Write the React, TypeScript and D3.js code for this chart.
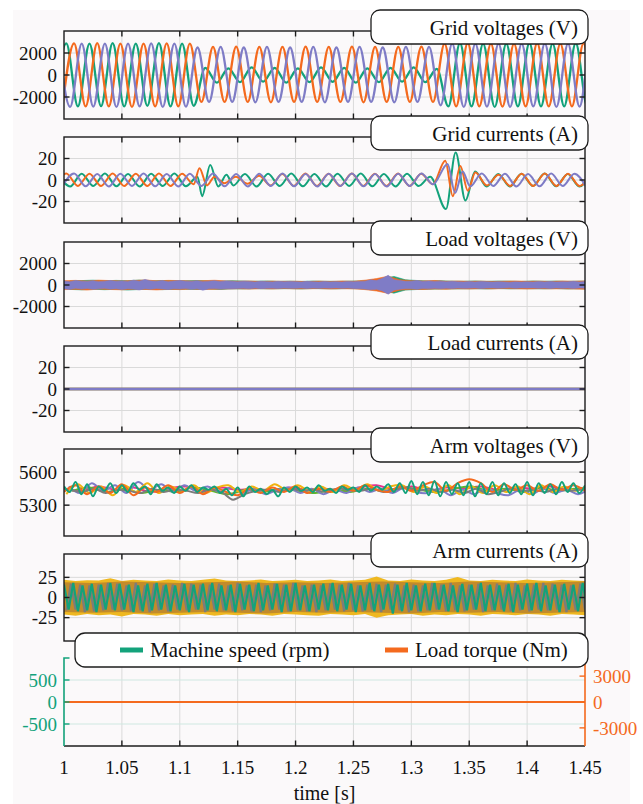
import React from "react";
import * as d3 from "d3";

type Seg = { t0: number; dt: number; v: number[] };
type Band = { t0: number; dt: number; hi: number[]; lo: number[] };

// time axis
const timeTicks = [1, 1.05, 1.1, 1.15, 1.2, 1.25, 1.3, 1.35, 1.4, 1.45];
const timeDomain = [1, 1.45];

// grid voltages (V) - peak values, one every half cycle
const gridVoltTicks = [-2000, 0, 2000];
const gridVoltGreen: Seg = { t0: 0.992, dt: 0.01, v: [
  -2800, 2880, -2850, 2850, -2820, 2900, -2850, 2860, -2800, 2900, -2850, 2850, -2800,
  650, -700, 600, -650, 700, -600, 650, -700, 600, -650, 700, -620, 650, -700, 600, -650, 650, -600, 700, -650, 550,
  -2850, 2900, -2850, 2850, -2900, 2850, -2850, 2900, -2850, 2850, -2850, 2900, -2850, 2850] };
const gridVoltOrange: Seg = { t0: 0.9987, dt: 0.01, v: [
  -2850, 2880, -2850, 2900, -2850, 2850, -2900, 2850, -2850, 2880, -2850, 2850,
  -2450, 2550, -2450, 2580, -2450, 2550, -2480, 2550, -2450, 2580, -2450, 2550, -2450, 2580, -2480, 2550, -2450, 2550, -2450, 2580, -2450,
  2850, -2850, 2900, -2850, 2850, -2880, 2850, -2850, 2900, -2850, 2850, -2850, 2880, -2850, 2850] };
const gridVoltPurple: Seg = { t0: 0.9953, dt: 0.01, v: [
  2850, -2900, 2850, -2880, 2850, -2900, 2850, -2850, 2880, -2900, 2850, -2880,
  2500, -2450, 2550, -2450, 2500, -2480, 2550, -2450, 2500, -2450, 2550, -2480, 2500, -2450, 2550, -2450, 2500, -2480, 2550, -2450, 2550,
  -2750, 2850, -2900, 2850, -2880, 2850, -2900, 2850, -2850, 2880, -2900, 2850, -2880, 2850, -2900] };

// grid currents (A)
const gridCurTicks = [-20, 0, 20];
const gridCurOrange: Seg[] = [
  { t0: 0.992, dt: 0.01, v: [-5.5, 6, -5.5, 5.8, -5.5, 6, -5.6, 5.8, -5.5, 6, -5.5, 5.8, -4] },
  { t0: 1.117, dt: 0.0065, v: [11, -5, 3] },
  { t0: 1.1385, dt: 0.01, v: [-3, 3, -3.5, 4, -5, 5.5, -5.5, 6, -5.5, 5.8, -5.5, 6, -5.6, 5.8, -5.5, 6, -5.5, 5.8, -4] },
  { t0: 1.3293, dt: 0.0065, v: [18, -15, 13, -10, 7] },
  { t0: 1.3653, dt: 0.01, v: [-5, 5, -5.5, 5.8, -5.5, 6, -5.5, 5.8, -5.5, 6] },
];
const gridCurGreen: Seg[] = [
  { t0: 0.9953, dt: 0.01, v: [5.5, -6, 5.8, -5.5, 6, -5.8, 5.5, -6, 5.8, -5.5, 6, -5.8, 3] },
  { t0: 1.1193, dt: 0.007, v: [-15, 14, -6, 5] },
  { t0: 1.1463, dt: 0.01, v: [-5, 5.5, -6, 5.8, -5.5, 6, -5.8, 5.5, -6, 5.8, -5.5, 6, -5.8, 5.5, -6, 5.8, -5.5, 3] },
  { t0: 1.3299, dt: 0.0084, v: [-27, 25.5, -19, 8] },
  { t0: 1.3651, dt: 0.01, v: [-6, 5.5, -6, 5.8, -5.5, 6, -5.8, 5.5, -6, 5.8] },
];
const gridCurPurple: Seg[] = [
  { t0: 0.9987, dt: 0.01, v: [
    -5.5, 6, -5.8, 5.5, -6, 5.8, -5.5, 6, -5.8, 5.5, -6, 5.8, -5.5, 6, -5.8, 5.5, -6,
    5.8, -5.5, 6, -5.8, 5.5, -6, 5.8, -5.5, 6, -5.8, 5.5, -6, 5.8, -5.5, 6, -4] },
  { t0: 1.3313, dt: 0.0065, v: [15, -12, 8, -6] },
  { t0: 1.3608, dt: 0.01, v: [6, -5.5, 5.8, -6, 5.5, -5.8, 6, -5.5, 5.8, -6] },
];

// load voltages (V) - band edges
const loadVoltTicks = [-2000, 0, 2000];
const loadVoltPurple: Band = { t0: 1, dt: 0.005,
  hi: [380, 300, 420, 350, 330, 400, 310, 360, 420, 340, 380, 330, 450, 360, 520, 380, 340, 410, 300, 370,
    420, 350, 330, 390, 310, 360, 400, 330, 380, 340, 300, 360, 330, 280, 350, 310, 290, 340, 300, 330,
    310, 280, 340, 300, 270, 320, 290, 310, 280, 330, 300, 330, 360, 480, 420, 620, 900, 500, 420, 340,
    350, 420, 320, 380, 330, 360, 300, 340, 310, 290, 320, 280, 330, 300, 270, 310, 290, 260, 300, 280,
    300, 270, 320, 290, 330, 280, 310, 300, 340, 290, 320],
  lo: [-350, -420, -300, -380, -330, -400, -360, -310, -390, -350, -420, -340, -380, -460, -350, -400, -330, -370, -420, -350,
    -380, -330, -400, -350, -480, -360, -320, -380, -340, -360, -320, -300, -350, -290, -340, -310, -300, -330, -290, -310,
    -300, -280, -320, -290, -310, -280, -300, -270, -310, -290, -320, -340, -380, -450, -400, -560, -850, -480, -400, -360,
    -340, -400, -330, -360, -310, -350, -300, -330, -290, -310, -300, -280, -320, -290, -270, -300, -280, -260, -300, -270,
    -290, -270, -310, -280, -320, -270, -300, -290, -320, -280, -300] };
const loadVoltOrange: Band = { t0: 1, dt: 0.01,
  hi: [400, 430, 370, 450, 410, 380, 420, 470, 390, 430, 410, 370, 400, 440, 380, 350, 370, 330, 360, 340,
    350, 320, 360, 330, 370, 350, 450, 600, 820, 500, 400, 380, 420, 350, 370, 340, 360, 330, 350, 370,
    340, 360, 330, 370, 350, 380],
  lo: [-430, -400, -470, -380, -420, -450, -390, -410, -460, -400, -430, -380, -420, -390, -370, -350, -380, -340, -370, -330,
    -360, -350, -330, -370, -340, -360, -430, -560, -780, -480, -400, -410, -370, -390, -350, -370, -340, -360, -330, -350,
    -370, -340, -360, -350, -370, -390] };
const loadVoltGreen: Band = { t0: 1.005, dt: 0.01,
  hi: [380, 410, 450, 390, 430, 400, 460, 380, 420, 400, 390, 420, 380, 360, 400, 370, 350, 380, 340, 360,
    330, 370, 350, 340, 360, 380, 430, 580, 800, 480, 420, 370, 400, 360, 350, 380, 340, 370, 360, 330,
    380, 350, 370, 340, 360, 370],
  lo: [-410, -450, -390, -440, -400, -470, -420, -390, -430, -410, -400, -420, -380, -410, -360, -370, -340, -360, -350, -340,
    -370, -330, -350, -360, -330, -350, -420, -540, -760, -470, -420, -390, -380, -370, -360, -350, -370, -330, -360, -340,
    -350, -360, -330, -370, -350, -380] };

// load currents (A)
const loadCurTicks = [-20, 0, 20];
const loadCurGreen: Seg = { t0: 1, dt: 0.05, v: [0, 0, 0, 0, 0, 0, 0, 0, 0, 0] };
const loadCurOrange: Seg = { t0: 1, dt: 0.05, v: [0, 0, 0, 0, 0, 0, 0, 0, 0, 0] };
const loadCurPurple: Seg = { t0: 1, dt: 0.05, v: [0, 0, 0, 0, 0, 0, 0, 0, 0, 0] };

// arm voltages (V)
const armVoltTicks = [5300, 5600];
const armVoltGreen: Seg = { t0: 1, dt: 0.005, v: [
  5470, 5420, 5510, 5400, 5490, 5380, 5470, 5430, 5500, 5410, 5480, 5420, 5500, 5440, 5470, 5400, 5490, 5430, 5460, 5410,
  5470, 5430, 5480, 5420, 5460, 5440, 5470, 5410, 5450, 5390, 5460, 5380, 5470, 5420, 5450, 5400, 5440, 5380, 5460, 5420,
  5470, 5430, 5460, 5420, 5480, 5430, 5450, 5410, 5470, 5440, 5460, 5420, 5480, 5430, 5470, 5440, 5490, 5420, 5500, 5410,
  5520, 5400, 5510, 5390, 5520, 5380, 5510, 5400, 5500, 5390, 5510, 5380, 5500, 5400, 5510, 5390, 5500, 5410, 5490, 5400,
  5510, 5390, 5500, 5410, 5490, 5400, 5510, 5420, 5500, 5410, 5480] };
const armVoltOrange: Seg = { t0: 1, dt: 0.01, v: [
  5420, 5480, 5400, 5470, 5410, 5490, 5390, 5460, 5420, 5480, 5410, 5470, 5400, 5460, 5420, 5390, 5450, 5410, 5460, 5420,
  5470, 5410, 5450, 5420, 5470, 5430, 5480, 5440, 5420, 5470, 5430, 5480, 5510, 5430, 5500, 5535, 5500, 5420, 5490, 5440,
  5480, 5430, 5490, 5440, 5480, 5430] };
const armVoltPurple: Seg = { t0: 1.004, dt: 0.01, v: [
  5470, 5410, 5500, 5430, 5480, 5410, 5510, 5440, 5490, 5420, 5480, 5430, 5470, 5420, 5460, 5410, 5450, 5400, 5440, 5460,
  5410, 5450, 5400, 5440, 5410, 5460, 5420, 5450, 5410, 5460, 5420, 5410, 5450, 5390, 5440, 5400, 5450, 5410, 5390, 5440,
  5400, 5450, 5410, 5440, 5400, 5450] };
const armVoltGold: Seg = { t0: 1.002, dt: 0.01, v: [
  5400, 5490, 5410, 5470, 5390, 5480, 5420, 5500, 5410, 5470, 5430, 5480, 5410, 5460, 5480, 5420, 5470, 5430, 5490, 5440,
  5480, 5430, 5470, 5420, 5480, 5440, 5490, 5430, 5470, 5480, 5420, 5470, 5410, 5480, 5400, 5470, 5410, 5480, 5420, 5470,
  5400, 5480, 5420, 5470, 5430, 5480] };
const armVoltGray: Seg = { t0: 1.006, dt: 0.01, v: [
  5440, 5420, 5450, 5410, 5440, 5430, 5410, 5450, 5420, 5440, 5430, 5410, 5440, 5420, 5350, 5400, 5430, 5440, 5420, 5450,
  5430, 5440, 5420, 5450, 5440, 5430, 5450, 5420, 5440, 5460, 5430, 5450, 5420, 5440, 5410, 5450, 5400, 5420, 5450, 5430,
  5440, 5420, 5450, 5430, 5440, 5420] };
const armVoltPink: Seg = { t0: 1, dt: 0.015, v: [
  5450, 5430, 5470, 5440, 5460, 5420, 5450, 5470, 5430, 5460, 5440, 5450, 5430, 5460, 5440, 5450, 5430, 5460, 5480, 5440,
  5470, 5430, 5460, 5450, 5470, 5440, 5460, 5450, 5470, 5440, 5460] };
const armVoltLime: Seg = { t0: 1.007, dt: 0.015, v: [
  5430, 5460, 5420, 5450, 5410, 5440, 5420, 5460, 5430, 5400, 5440, 5420, 5450, 5430, 5410, 5440, 5420, 5450, 5430, 5460,
  5440, 5420, 5450, 5470, 5430, 5450, 5420, 5460, 5430, 5450, 5440] };

// arm currents (A)
const armCurTicks = [-25, 0, 25];
const armCurOuter: Band = { t0: 1, dt: 0.01,
  hi: [22, 20.5, 21.5, 21, 24, 20.5, 22, 21, 20.5, 22.5, 21, 20.5, 22, 23.5, 21, 20.5, 21, 22.5, 20.5, 21,
    22, 20.5, 21, 22.5, 20.5, 21, 22, 26, 21, 20.5, 22.5, 21, 20.5, 22, 25.5, 21, 20.5, 22, 21, 20.5, 22.5, 21, 20.5, 22, 21, 20.5],
  lo: [-21, -22.5, -20.5, -22, -21, -23.5, -20.5, -21, -22.5, -20.5, -22, -21, -20.5, -22.5, -21, -22, -20.5, -21, -22.5, -20.5,
    -21, -22, -22.5, -20.5, -21, -22, -20.5, -25, -22, -21, -20.5, -22.5, -21, -22, -20.5, -21, -22.5, -20.5, -21, -22, -20.5, -21, -22.5, -20.5, -21, -22] };
const armCurInner: Band = { t0: 1, dt: 0.025,
  hi: [19, 18, 20, 19, 18, 19, 20, 18, 19, 18, 19, 20, 19, 18, 20, 19, 18, 19, 20],
  lo: [-18, -19, -18, -20, -19, -18, -19, -20, -18, -19, -18, -19, -20, -18, -19, -18, -20, -19, -18] };
const armCurGray: Seg = { t0: 1.002, dt: 0.004, v: [
  -16, 17, -15, 16, -18, 15, -17, 16, -16, 18, -15, 17, -16, 15, -17, 18, -16, 15, -18, 17,
  -16, 15, -17, 16, -15, 18, -16, 17, -15, 16, -18, 16, -15, 17, -16, 15, -17, 18, -16, 15,
  -17, 16, -18, 15, -16, 17, -15, 16, -17, 18, -16, 15, -17, 16, -18, 15, -16, 17, -15, 16,
  -17, 18, -16, 15, -17, 16, -15, 17, -18, 16, -15, 17, -16, 15, -18, 16, -17, 15, -16, 18,
  -15, 16, -17, 18, -16, 15, -17, 16, -15, 17, -18, 15, -16, 17, -15, 16, -17, 18, -16, 15,
  -17, 16, -15, 18, -16, 17, -15, 16, -18, 15, -16, 17, -15] };
const armCurGreen: Seg = { t0: 1, dt: 0.004, v: [
  16, -15, 18, -17, 15, -16, 17, -18, 16, -15, 18, -16, 17, -15, 16, -18, 15, -17, 17, -16,
  18, -15, 16, -17, 15, -16, 17, -18, 16, -15, 17, -16, 18, -17, 15, -16, 16, -18, 17, -15,
  16, -17, 18, -16, 15, -15, 17, -18, 16, -17, 18, -16, 15, -17, 16, -15, 17, -16, 18, -17,
  16, -15, 17, -18, 15, -16, 18, -17, 16, -15, 17, -20, 16, -17, 18, -16, 15, -17, 17, -16,
  18, -15, 16, -17, 15, -18, 17, -16, 16, -15, 18, -17, 16, -16, 15, -17, 17, -18, 16, -15,
  17, -16, 18, -17, 15, -16, 16, -18, 17, -15, 16, -17, 18, -16] };

// machine
const speedTicks = [-500, 0, 500];
const torqueTicks = [-3000, 0, 3000];
const machineSpeed: Seg = { t0: 1, dt: 0.05, v: [0, 0, 0, 0, 0, 0, 0, 0, 0, 0] };
const loadTorque: Seg = { t0: 1, dt: 0.05, v: [0, 0, 0, 0, 0, 0, 0, 0, 0, 0] };

const C = {
  green: "#13a27b", orange: "#f46a1e", purple: "#7f7cc6",
  pink: "#e8308c", lime: "#5fb430", gold: "#f0b30f", brown: "#c28b2b", gray: "#7c7c7c",
  yellow: "#efb820",
};
const FONT = "'Liberation Serif', 'Times New Roman', serif";
const X0 = 64, X1 = 585;
const x = d3.scaleLinear().domain(timeDomain).range([X0, X1]);

const knots = (segs: Seg[]) =>
  segs.flatMap(s => s.v.map((v, i) => [s.t0 + i * s.dt, v] as [number, number]));

const lineOf = (segs: Seg[], y: any, curve: any) =>
  d3.line<[number, number]>().x(d => x(d[0])).y(d => y(d[1])).curve(curve)(knots(segs)) || "";

const bandOf = (b: Band, y: any, curve: any) => {
  const pts = b.hi.map((h, i) => ({ t: b.t0 + i * b.dt, h, l: b.lo[i] }));
  return d3.area<any>().x(d => x(d.t)).y0(d => y(d.l)).y1(d => y(d.h)).curve(curve)(pts) || "";
};

const panels = [
  { title: "Grid voltages (V)", top: 31, bottom: 119, domain: [-4000, 4000], ticks: gridVoltTicks },
  { title: "Grid currents (A)", top: 137, bottom: 223, domain: [-40, 40], ticks: gridCurTicks },
  { title: "Load voltages (V)", top: 242, bottom: 328, domain: [-4000, 4000], ticks: loadVoltTicks },
  { title: "Load currents (A)", top: 346, bottom: 432, domain: [-40, 40], ticks: loadCurTicks },
  { title: "Arm voltages (V)", top: 449, bottom: 536, domain: [5020, 5810], ticks: armVoltTicks },
  { title: "Arm currents (A)", top: 554, bottom: 641, domain: [-54, 54], ticks: armCurTicks },
];

const drawSeries = (i: number, y: any) => {
  const mono = d3.curveMonotoneX;
  if (i === 0) return [
    [gridVoltGreen, C.green], [gridVoltOrange, C.orange], [gridVoltPurple, C.purple],
  ].map(([s, c]: any, k) => <path key={k} d={lineOf([s], y, mono)} fill="none" stroke={c} strokeWidth={2.3} />);
  if (i === 1) return [
    [gridCurGreen, C.green], [gridCurOrange, C.orange], [gridCurPurple, C.purple],
  ].map(([s, c]: any, k) => <path key={k} d={lineOf(s, y, mono)} fill="none" stroke={c} strokeWidth={2} />);
  if (i === 2) return [
    [loadVoltGreen, C.green], [loadVoltOrange, C.orange], [loadVoltPurple, C.purple],
  ].map(([b, c]: any, k) => <path key={k} d={bandOf(b, y, d3.curveLinear)} fill={c} stroke={c} strokeWidth={0.6} />);
  if (i === 3) return [
    [loadCurGreen, C.green], [loadCurOrange, C.orange], [loadCurPurple, C.purple],
  ].map(([s, c]: any, k) => <path key={k} d={lineOf([s], y, d3.curveLinear)} fill="none" stroke={c} strokeWidth={2.5} />);
  if (i === 4) return [
    [armVoltPink, C.pink], [armVoltLime, C.lime], [armVoltPurple, C.purple], [armVoltGold, C.gold],
    [armVoltGray, C.gray], [armVoltOrange, C.orange], [armVoltGreen, C.green],
  ].map(([s, c]: any, k) => <path key={k} d={lineOf([s], y, d3.curveCatmullRom)} fill="none" stroke={c} strokeWidth={2} />);
  return [
    <path key="o" d={bandOf(armCurOuter, y, d3.curveLinear)} fill={C.yellow} />,
    <path key="in" d={bandOf(armCurInner, y, d3.curveLinear)} fill={C.brown} />,
    <path key="g" d={lineOf([armCurGray], y, d3.curveLinear)} fill="none" stroke={C.gray} strokeWidth={2.2} />,
    <path key="gr" d={lineOf([armCurGreen], y, d3.curveLinear)} fill="none" stroke={C.green} strokeWidth={2.2} />,
  ];
};

const TL = 5.5;
const frameStroke = "#1c1c1c";

function TitleBox({ top, text }: { top: number; text: string }) {
  return (
    <g>
      <rect x={371} y={top - 21} width={217} height={34} rx={9} fill="#fff" stroke={frameStroke} strokeWidth={1.3} />
      <text x={578} y={top + 4} textAnchor="end" fontFamily={FONT} fontSize={21} fill="#111">{text}</text>
    </g>
  );
}

export default function App() {
  const pTop = 658, pBot = 746;
  const ySpeed = d3.scaleLinear().domain([-1000, 1000]).range([pBot, pTop]);
  const yTorque = d3.scaleLinear().domain([-5100, 5100]).range([pBot, pTop]);
  return (
    <svg width={643} height={804} style={{ position: "absolute", left: 0, top: 0 }}>
      <rect width={643} height={804} fill="#ffffff" />
      <rect x={13} y={10} width={617} height={794} fill="#fbf9fa" />
      <defs>
        {panels.map((p, i) => (
          <clipPath key={i} id={`clip${i}`}>
            <rect x={X0} y={p.top} width={X1 - X0} height={p.bottom - p.top} />
          </clipPath>
        ))}
        <clipPath id="clip6"><rect x={X0} y={pTop} width={X1 - X0} height={pBot - pTop} /></clipPath>
      </defs>
      {panels.map((p, i) => {
        const y = d3.scaleLinear().domain(p.domain).range([p.bottom, p.top]);
        return (
          <g key={i}>
            {timeTicks.slice(1, -1).map(t => (
              <line key={t} x1={x(t)} x2={x(t)} y1={p.top} y2={p.bottom} stroke="#dadada" strokeWidth={1} />
            ))}
            {p.ticks.map(v => (
              <line key={v} x1={X0} x2={X1} y1={y(v)} y2={y(v)} stroke="#dadada" strokeWidth={1} />
            ))}
            <g clipPath={`url(#clip${i})`}>{drawSeries(i, y)}</g>
            <rect x={X0} y={p.top} width={X1 - X0} height={p.bottom - p.top} fill="none" stroke={frameStroke} strokeWidth={1.4} />
            {timeTicks.slice(1, -1).map(t => (
              <g key={t} stroke={frameStroke} strokeWidth={1.4}>
                <line x1={x(t)} x2={x(t)} y1={p.top} y2={p.top + TL} />
                <line x1={x(t)} x2={x(t)} y1={p.bottom} y2={p.bottom - TL} />
              </g>
            ))}
            {p.ticks.map(v => (
              <g key={v}>
                <line x1={X0} x2={X0 + TL} y1={y(v)} y2={y(v)} stroke={frameStroke} strokeWidth={1.4} />
                <line x1={X1} x2={X1 - TL} y1={y(v)} y2={y(v)} stroke={frameStroke} strokeWidth={1.4} />
                <text x={X0 - 7} y={y(v)} dy="0.35em" textAnchor="end" fontFamily={FONT} fontSize={19} fill="#111">{v}</text>
              </g>
            ))}
            <TitleBox top={p.top} text={p.title} />
          </g>
        );
      })}

      {/* machine panel */}
      <g>
        {timeTicks.slice(1, -1).map(t => (
          <line key={t} x1={x(t)} x2={x(t)} y1={pTop} y2={pBot} stroke="#dadada" strokeWidth={1} />
        ))}
        {speedTicks.map(v => (
          <line key={v} x1={X0} x2={X1} y1={ySpeed(v)} y2={ySpeed(v)} stroke="#cfe8e1" strokeWidth={1} />
        ))}
        <g clipPath="url(#clip6)">
          <path d={lineOf([machineSpeed], ySpeed, d3.curveLinear)} fill="none" stroke={C.green} strokeWidth={2} />
          <path d={lineOf([loadTorque], yTorque, d3.curveLinear)} fill="none" stroke={C.orange} strokeWidth={2} />
        </g>
        <line x1={X0} x2={X1} y1={pBot} y2={pBot} stroke={frameStroke} strokeWidth={1.4} />
        {timeTicks.slice(1, -1).map(t => (
          <line key={t} x1={x(t)} x2={x(t)} y1={pBot} y2={pBot - TL} stroke={frameStroke} strokeWidth={1.4} />
        ))}
        <path d={`M${X0 + TL},${pTop}H${X0}V${pBot}`} fill="none" stroke={C.green} strokeWidth={1.6} />
        <path d={`M${X1 - TL},${pTop}H${X1}V${pBot}`} fill="none" stroke={C.orange} strokeWidth={1.6} />
        {speedTicks.map(v => (
          <g key={v}>
            <line x1={X0} x2={X0 + TL} y1={ySpeed(v)} y2={ySpeed(v)} stroke={C.green} strokeWidth={1.4} />
            <text x={X0 - 7} y={ySpeed(v)} dy="0.35em" textAnchor="end" fontFamily={FONT} fontSize={19} fill={C.green}>{v}</text>
          </g>
        ))}
        {torqueTicks.map(v => (
          <g key={v}>
            <line x1={X1} x2={X1 - TL} y1={yTorque(v)} y2={yTorque(v)} stroke={C.orange} strokeWidth={1.4} />
            <text x={X1 + 8} y={yTorque(v)} dy="0.35em" textAnchor="start" fontFamily={FONT} fontSize={19} fill={C.orange}>{v}</text>
          </g>
        ))}
        {timeTicks.map(t => (
          <text key={t} x={x(t)} y={774} textAnchor="middle" fontFamily={FONT} fontSize={19} fill="#111">{String(+t.toFixed(2))}</text>
        ))}
        <text x={(X0 + X1) / 2} y={800} textAnchor="middle" fontFamily={FONT} fontSize={20} fill="#111">time [s]</text>

        {/* legend */}
        <rect x={75} y={633} width={513} height={34} rx={10} fill="#fff" stroke={frameStroke} strokeWidth={1.3} />
        <line x1={120} x2={143} y1={650} y2={650} stroke={C.green} strokeWidth={5} />
        <text x={150} y={657} fontFamily={FONT} fontSize={21} fill="#111">Machine speed (rpm)</text>
        <line x1={385} x2={408} y1={650} y2={650} stroke={C.orange} strokeWidth={5} />
        <text x={415} y={657} fontFamily={FONT} fontSize={21} fill="#111">Load torque (Nm)</text>
      </g>
    </svg>
  );
}
